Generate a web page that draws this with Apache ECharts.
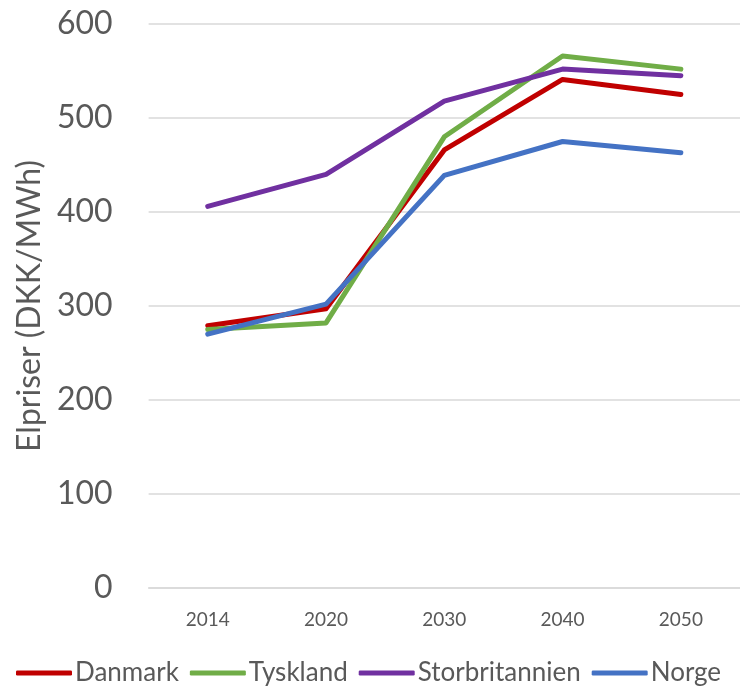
<!DOCTYPE html>
<html>
<head>
<meta charset="utf-8">
<script src="https://cdn.jsdelivr.net/npm/echarts@6/dist/echarts.min.js"></script>
<style>
  html, body { margin: 0; padding: 0; background: #ffffff; }
  #chart { width: 740px; height: 691px; }
</style>
</head>
<body>
<div id="chart"></div>
<script>
// Electricity price projections per country (DKK/MWh)
const years = ['2014', '2020', '2030', '2040', '2050'];
const danmark = [279, 297, 466, 541, 525];
const tyskland = [275, 282, 480, 566, 552];
const storbritannien = [406, 440, 518, 552, 545];
const norge = [270, 302, 439, 475, 463];

const seriesDefs = [
  { name: 'Danmark', data: danmark, color: '#C00000' },
  { name: 'Tyskland', data: tyskland, color: '#70AD47' },
  { name: 'Storbritannien', data: storbritannien, color: '#7030A0' },
  { name: 'Norge', data: norge, color: '#4472C4' }
];

const textColor = '#595959';
const font = 'Lato';

const chart = echarts.init(document.getElementById('chart'), null, { renderer: 'canvas' });
chart.setOption({
  animation: false,
  backgroundColor: '#ffffff',
  textStyle: { fontFamily: font, color: textColor },
  grid: { left: 148.6, top: 24, width: 593.8, height: 564, containLabel: false },
  legend: {
    left: 16,
    width: 724,
    top: 660,
    padding: 0,
    itemWidth: 56,
    itemHeight: 5,
    itemGap: 11,
    icon: 'roundRect',
    textStyle: { fontFamily: font, fontSize: 26, color: textColor, padding: [0, 0, 0, -2] },
    data: seriesDefs.map(s => s.name)
  },
  xAxis: {
    type: 'category',
    data: years,
    boundaryGap: true,
    axisLine: { show: true, lineStyle: { color: '#d9d9d9', width: 1.5 } },
    axisTick: { show: false },
    axisLabel: { fontFamily: font, fontSize: 19, color: textColor, margin: 22 }
  },
  yAxis: {
    type: 'value',
    min: 0,
    max: 600,
    interval: 100,
    name: 'Elpriser (DKK/MWh)',
    nameLocation: 'middle',
    nameGap: 100,
    nameTextStyle: { fontFamily: font, fontSize: 32, color: textColor },
    axisLine: { show: false },
    axisTick: { show: false },
    axisLabel: { fontFamily: font, fontSize: 32, color: textColor, margin: 36 },
    splitLine: { lineStyle: { color: '#d9d9d9', width: 1.5 } }
  },
  series: seriesDefs.map(s => ({
    name: s.name,
    type: 'line',
    data: s.data,
    symbol: 'none',
    color: s.color,
    lineStyle: { color: s.color, width: 5, cap: 'round', join: 'round' }
  }))
});
</script>
</body>
</html>
